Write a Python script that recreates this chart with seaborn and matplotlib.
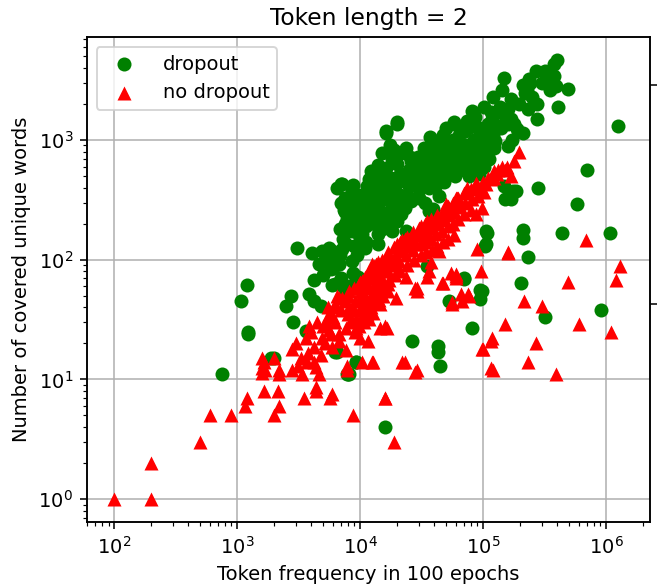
import matplotlib
matplotlib.use("Agg")
import matplotlib.pyplot as plt
import seaborn as sns
import pandas as pd

TITLE = "Token length = 2"
X_LABEL = "Token frequency in 100 epochs"
Y_LABEL = "Number of covered unique words"

# dropout (green circles): token frequency, unique words
dropout_freq = [
    # top right
    400000, 380000, 270000, 320000, 380000, 300000, 490000, 390000, 410000, 148000,
    210000, 220000, 275000, 195000, 160000, 275000, 210000, 130000, 81000, 74000,
    50000, 62000, 110000, 160000, 190000, 126000, 160000, 50000, 68000, 55000,
    80000, 44000, 93000, 112000, 700000, 1260000,
    # main cluster
    16300, 20000, 71000, 87000, 92000, 106000, 15000, 19000, 23500, 33000,
    41000, 53000, 67000, 87000, 12300, 16300, 20000, 26000, 34000, 50000,
    56000, 80000, 92000, 44000, 7100, 8600, 11400, 15000, 20000, 25000,
    30000, 36000, 26000, 34000, 44000, 8100, 10400, 14000, 18200, 23000,
    7800, 10200, 12500, 16300, 20000, 10400, 14000, 18200, 23500, 7700,
    11000, 14000, 36000, 39000, 105000, 105000, 6700, 8600, 35000, 70000,
    98000, 9800, 7400, 6500, 7000, 16300, 20000,
    7500, 7400, 7600, 9000, 9100, 8900, 11000, 10800, 11200, 11100,
    13000, 12800, 13300, 13100, 15000, 15200, 14800, 15100, 18000, 17700,
    18300, 18100, 21000, 21300, 20800, 21500, 25000, 24600, 25300, 30000,
    29500, 30500, 30200, 36000, 35500, 36500, 37000, 42000, 41500, 42500,
    48000, 47500, 48500, 58000, 57000, 59000, 58500, 65000, 64000, 66000,
    75000, 74000, 76000, 77000, 85000, 84000, 86000, 100000, 98000, 102000,
    101000, 120000, 118000, 122000, 121000, 140000, 138000, 142000, 170000, 168000,
    172000, 230000, 228000, 235000,
    9500, 9800, 9000, 9500, 8800, 9600, 7000, 7500, 6900, 7200, 6800,
    10500, 12000, 13500, 16000, 17500, 22000, 24000, 28000, 31000, 27000,
    33000, 38000, 40000, 46000, 52000, 60000, 55000, 63000, 72000, 78000,
    90000, 95000, 110000, 130000, 150000, 115000, 180000, 250000, 240000, 330000,
    350000, 12000, 14500, 17000, 9500, 9700, 8300, 8800, 11800, 14000,
    17500, 5200, 6200, 7000, 8300, 5000,
    # lower left
    3070, 4050, 4900, 5900, 7100, 4600, 5800, 6700, 1200, 1070,
    1230, 750, 2750, 2500, 2850, 4200, 5900, 3850, 4200, 4800,
    2000, 1900, 3650, 6300, 9200, 8100, 8600, 7700, 5600, 6000,
    6300, 7700, 9000, 7800, 1230, 6500, 9300, 8000, 16000,
    # scattered right
    280000, 580000, 440000, 1070000, 210000, 210000, 230000, 175000, 150000, 205000,
    910000, 320000, 107000, 104000, 95000, 95000, 70000, 53000, 81000, 43000,
    43000, 45000, 26500, 148000, 185000, 170000,
]
dropout_words = [
    4700, 4300, 3800, 3800, 3400, 3000, 2660, 2800, 1900, 3300,
    2900, 2450, 2000, 2000, 1800, 1500, 1150, 1700, 1750, 1450,
    1250, 1300, 1350, 1350, 1230, 990, 890, 860, 800, 630,
    630, 530, 710, 700, 560, 1300,
    1190, 1350, 1190, 1300, 1070, 1070, 780, 830, 860, 860,
    890, 930, 930, 860, 550, 580, 630, 670, 670, 650,
    580, 550, 520, 550, 430, 375, 415, 430, 440, 415,
    390, 400, 310, 300, 340, 290, 290, 300, 290, 270,
    220, 210, 225, 210, 210, 165, 165, 175, 175, 135,
    125, 135, 255, 265, 175, 135, 92, 98, 89, 70,
    55, 63, 58, 400, 430, 1150, 1400,
    200, 260, 330, 240, 320, 180, 250, 350, 190, 140,
    380, 270, 200, 480, 350, 250, 520, 180, 380, 480,
    260, 700, 520, 350, 760, 240, 560, 460, 720, 560,
    720, 480, 330, 480, 620, 800, 1050, 700, 420, 980,
    760, 1100, 450, 720, 1000, 500, 1400, 560, 1100, 850,
    640, 900, 1250, 500, 750, 1000, 1550, 800, 1200, 600,
    1900, 1100, 1500, 850, 2300, 1250, 1900, 2600, 1500, 2200,
    1000, 1800, 2600, 3200,
    200, 160, 130, 110, 78, 72, 300, 250, 180, 150, 110,
    350, 300, 330, 360, 310, 300, 350, 420, 470, 560,
    600, 520, 700, 620, 540, 640, 800, 720, 800, 700,
    950, 650, 900, 1300, 1600, 1700, 1350, 2300, 3000, 3300,
    2600, 260, 240, 230, 260, 350, 320, 420, 470, 620,
    900, 100, 105, 70, 60, 75,
    126, 114, 118, 118, 123, 92, 84, 92, 62, 45,
    25, 11, 50, 41, 30, 68, 61, 52, 45, 41,
    15, 15, 25.5, 17, 14, 11, 175, 200, 126, 85,
    63, 55, 63, 11, 24, 17, 14, 11, 4,
    400, 290, 167, 167, 178, 152, 105, 375, 320, 64,
    38, 33, 167, 130, 56, 47, 69, 45, 27, 19,
    17, 13, 21, 410, 375, 320,
]

# no dropout (red triangles)
nodrop_freq = [
    # lower left tail
    100, 200, 200, 500, 600, 900, 1200, 1150, 1650, 2150,
    2200, 2000, 1650, 1700, 1600, 2200, 3500, 4400, 5700, 8800,
    16000, 19000, 2800, 2800, 3400, 4200, 7800, 12700, 1600, 1600,
    2200, 3850, 4350, 4600, 3800, 4200, 4900, 5300, 5600, 6300,
    6700, 7800, 6700, 7700, 8600, 7700, 5900, 4400, 5900, 2000,
    3000, 3300, 3600, 4000, 4500, 5000, 5500, 6000, 6500, 7000,
    7500, 3100, 3700, 4800, 5200, 5800, 6200,
    # band
    7100, 6300, 8100, 9800, 11800, 13500, 16500, 22000, 25000, 30000,
    35000, 42000, 50000, 60000, 74000, 89000, 105000, 117000, 170000, 142000,
    177000, 195000, 156000, 98000, 87000, 123000, 123000, 87000, 74000, 61000,
    53000, 44000, 35000, 30000, 23000, 17000, 12500, 10400, 89000, 158000,
    36000, 44000, 28000, 20000, 16500, 17000, 19500, 13500, 14400, 10500,
    9200, 14600, 16500, 11500, 12500, 10400, 6700, 5600, 36000, 46000,
    55000, 60000, 66000, 77000, 56000, 29000, 29000, 22000, 29000, 16000,
    96000, 117000, 98000, 117000, 60000, 60000, 47000, 35000, 28000, 28000,
    23000, 16000, 76000, 68000, 56000,
    8000, 8100, 7900, 8200, 9000, 9100, 8900, 9200, 9050,
    10000, 10200, 9900, 10100, 10300, 9800, 10050,
    11000, 11200, 10900, 11100, 11300, 10800,
    12000, 12200, 11900, 12100, 12300, 11800,
    13000, 13200, 12900, 13100, 13300, 12800,
    14000, 14200, 13900, 14100, 14300,
    15000, 15300, 14800, 15100, 15400,
    17000, 17300, 16800, 17200, 16900,
    19000, 19300, 18800, 19100,
    21000, 21400, 20800, 21200,
    24000, 24400, 23800, 24200, 23600,
    27000, 27500, 26700, 27200,
    31000, 31500, 30700, 31200,
    34000, 34500, 33700, 34200,
    38000, 38600, 37600, 38300, 37800,
    42000, 42700, 41600, 42300,
    47000, 47800, 46500, 47300,
    52000, 52800, 51500, 52300,
    57000, 58000, 56500, 57500,
    63000, 64000, 62500,
    70000, 71000, 69500,
    80000, 81000, 79500,
    90000, 91000,
    100000, 101500,
    110000, 130000, 131000, 150000,
    # scattered right
    690000, 1300000, 1200000, 490000, 1100000, 600000, 390000, 270000, 230000, 300000,
    215000, 150000, 118000, 100000, 120000, 160000,
]
nodrop_words = [
    1, 1, 2, 3, 5, 5, 7, 6, 8, 8,
    6, 5, 14, 12, 11.4, 11, 7, 8, 7, 5,
    7, 3, 12, 18, 11, 14, 12, 14, 15, 12.5,
    12, 28, 12.6, 11, 16.5, 18.5, 22.4, 31, 35, 40,
    48, 13, 24, 27, 31, 17.5, 18.5, 8.6, 7.6, 15,
    20, 15, 22, 25, 30, 28, 40, 33, 50, 38,
    45, 13, 14, 16, 20, 24, 30,
    48, 43, 55, 63, 80, 92, 104, 145, 150, 185,
    210, 225, 290, 330, 375, 400, 430, 470, 500, 600,
    670, 800, 600, 270, 240, 550, 480, 440, 400, 330,
    270, 225, 205, 175, 150, 104, 92, 67, 123, 114,
    150, 118, 135, 135, 98, 63, 48, 63, 43, 38,
    27, 27, 27, 21, 14, 14, 21, 26, 80, 64,
    78, 70, 52, 50, 44, 58, 55, 14, 12, 7,
    80, 21, 18, 12.4, 73, 76, 64, 72, 58, 11.5,
    14, 28, 52, 45, 43,
    50, 40, 35, 30, 58, 45, 38, 32, 25,
    65, 55, 48, 40, 33, 28, 22,
    72, 60, 50, 42, 35, 30,
    82, 70, 58, 48, 40, 32,
    88, 75, 62, 52, 44, 36,
    95, 80, 68, 56, 46,
    100, 85, 72, 60, 50,
    115, 95, 80, 68, 55,
    128, 108, 90, 75,
    140, 118, 98, 80,
    155, 130, 110, 90, 72,
    170, 142, 120, 100,
    190, 160, 135, 110,
    200, 170, 140, 115,
    220, 185, 150, 120, 95,
    235, 200, 165, 130,
    255, 215, 175, 140,
    280, 235, 190, 150,
    300, 250, 200, 160,
    330, 275, 220,
    360, 300, 240,
    390, 320, 260,
    420, 340,
    450, 370,
    480, 520, 560, 560,
    147, 88, 68, 65, 25, 29, 11, 20, 14, 41,
    45, 29, 22, 18, 12, 115,
]

dropout = pd.DataFrame({"freq": dropout_freq, "words": dropout_words})
nodrop = pd.DataFrame({"freq": nodrop_freq, "words": nodrop_words})

fig, ax = plt.subplots(figsize=(4.7, 4.2), dpi=140)
fig.subplots_adjust(left=0.132, right=0.988, bottom=0.112, top=0.937)

sns.scatterplot(data=dropout, x="freq", y="words", marker="o", color="green",
                s=52, linewidth=0, label="dropout", ax=ax, zorder=3)
sns.scatterplot(data=nodrop, x="freq", y="words", marker="^", color="red",
                s=52, linewidth=0, label="no dropout", ax=ax, zorder=3)

ax.set_xscale("log")
ax.set_yscale("log")
ax.set_xlim(60, 2.28e6)
ax.set_ylim(0.643, 7240)
ax.grid(True, which="major", color="#b0b0b0", linewidth=0.8)
ax.set_axisbelow(True)
ax.set_title(TITLE, fontsize=12)
ax.set_xlabel(X_LABEL, fontsize=10)
ax.set_ylabel(Y_LABEL, fontsize=10)
ax.legend(loc="upper left", fontsize=10, handletextpad=1.0)

# unlabeled twin axis ticks on the right spine
ax2 = ax.twinx()
ax2.set_ylim(0, 1)
ax2.set_yticks([0.449, 0.901])
ax2.set_yticklabels([])

fig.savefig("out.png", dpi=140)
